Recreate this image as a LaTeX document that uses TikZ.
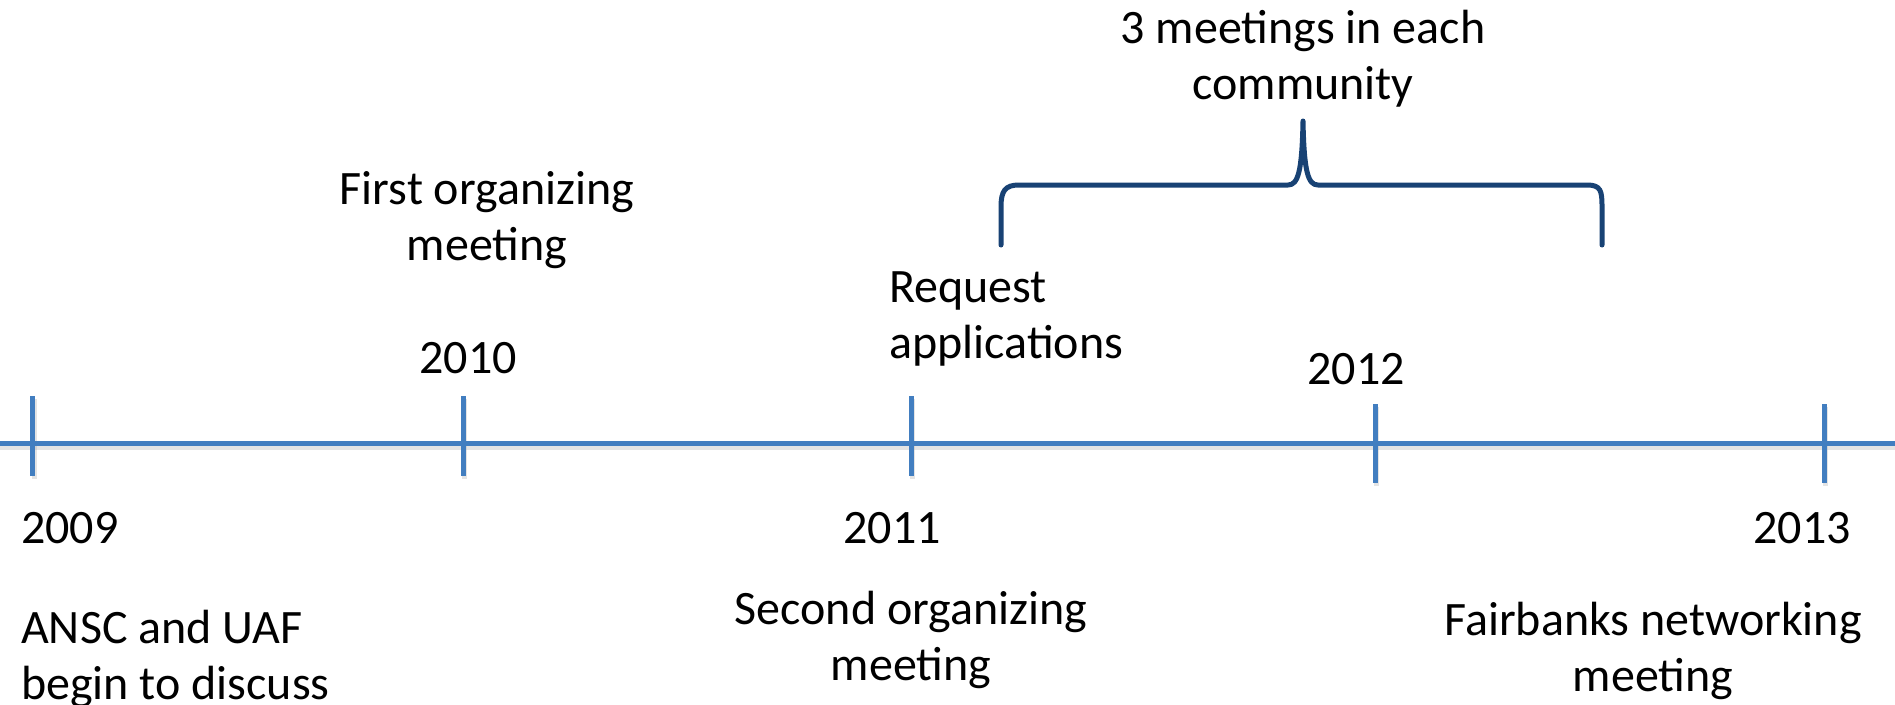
\documentclass[tikz,border=0pt]{standalone}
\usepackage{fontspec}
\setmainfont{Carlito}
\definecolor{tlblue}{RGB}{66,126,192}
\definecolor{bracecol}{RGB}{24,66,116}
\tikzset{
  axisline/.style={draw=tlblue,line width=5pt},
  tickmark/.style={draw=tlblue,line width=5pt},
  shadowline/.style={draw=black!35,line width=5pt,opacity=0.3},
  bracestroke/.style={draw=bracecol,line width=5pt,line cap=round,line join=round},
  lbl/.style={inner sep=0pt,font=\fontsize{48}{56}\selectfont,text=black}
}
\begin{document}
\begin{tikzpicture}[x=1pt,y=-1pt]
\useasboundingbox (0,0) rectangle (1895,704);
% shadows
\draw[shadowline] (0,447) -- (1895,447);
\foreach \tx/\ta/\tb in {32.5/396/476, 463/396/476, 911/396/476, 1375/404/483, 1824/404/483}
  \draw[shadowline] (\tx+1.5,\ta+3) -- (\tx+1.5,\tb+3);
% axis
\coordinate (L) at (0,443);
\coordinate (R) at (1895,443);
\draw[axisline] (L) -- (R);
% ticks
\draw[tickmark] (32.5,396) -- (32.5,476);
\draw[tickmark] (463,396) -- (463,476);
\draw[tickmark] (911,396) -- (911,476);
\draw[tickmark] (1375,404) -- (1375,483);
\draw[tickmark] (1824,404) -- (1824,483);
% brace
\coordinate (bl) at (1001,245);
\coordinate (br) at (1602,245);
\coordinate (bp) at (1303,121);
\draw[bracestroke] (bl) -- (1001,207) .. controls (1001,191) and (1005,185) .. (1019,185)
  -- (1288,185) .. controls (1298,185) and (1302,172) .. (bp)
  .. controls (1304,172) and (1308,185) .. (1318,185)
  -- (1587,185) .. controls (1601,185) and (1602,191) .. (1602,207) -- (br);
% labels
\node[lbl,align=center] (meet3) at (1303,59) {3 meetings in each\\community};
\node[lbl,align=center] (first) at (487,220) {First organizing\\meeting};
\node[lbl] (y2010) at (468,358) {2010};
\node[lbl,align=left,anchor=west] (req) at (889,319) {Request\\applications};
\node[lbl] (y2012) at (1356,369) {2012};
\node[lbl,anchor=west] (y2009) at (21,528) {2009};
\node[lbl] (y2011) at (892,528) {2011};
\node[lbl] (y2013) at (1802,528) {2013};
\node[lbl,align=left,anchor=west] (ansc) at (21,659) {ANSC and UAF\\begin to discuss};
\node[lbl,align=center] (second) at (911,640) {Second organizing\\meeting};
\node[lbl,align=center] (fair) at (1653,651) {Fairbanks networking\\meeting};
\end{tikzpicture}
\end{document}
